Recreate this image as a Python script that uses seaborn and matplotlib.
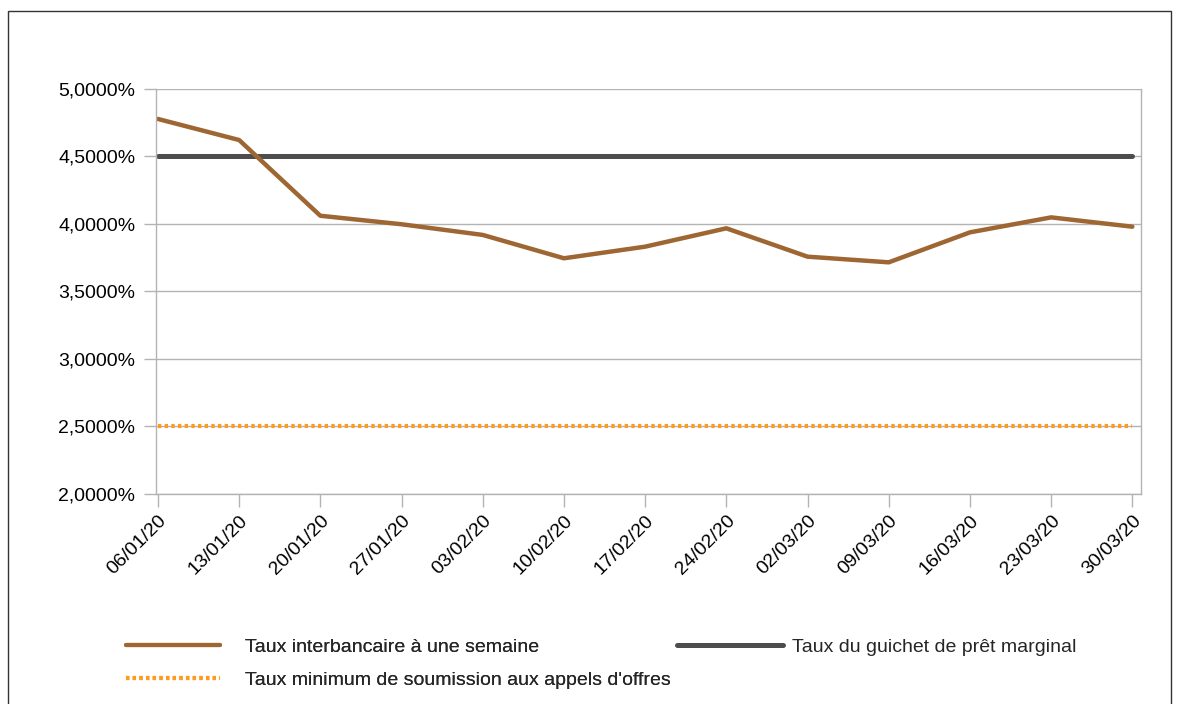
import pandas as pd
import seaborn as sns
import matplotlib.pyplot as plt
import matplotlib.dates as mdates
from matplotlib.ticker import FuncFormatter, MultipleLocator
from matplotlib.lines import Line2D
from matplotlib.patches import Rectangle

dates = ["06/01/20", "13/01/20", "20/01/20", "27/01/20", "03/02/20", "10/02/20",
         "17/02/20", "24/02/20", "02/03/20", "09/03/20", "16/03/20", "23/03/20",
         "30/03/20"]
taux_interbancaire = [4.778, 4.622, 4.061, 3.998, 3.919, 3.746, 3.832, 3.968,
                      3.758, 3.716, 3.938, 4.049, 3.980]
taux_pret_marginal = [4.50] * 13
taux_minimum = [2.50] * 13

labels = ["Taux interbancaire à une semaine",
          "Taux du guichet de prêt marginal",
          "Taux minimum de soumission aux appels d'offres"]


def main():
    sns.set_style("white")
    plt.rcParams['font.family'] = ['Liberation Sans', 'DejaVu Sans']

    df = pd.DataFrame({
        "date": pd.to_datetime(dates, format="%d/%m/%y"),
        "inter": taux_interbancaire,
        "marginal": taux_pret_marginal,
        "minimum": taux_minimum,
    })

    fig = plt.figure(figsize=(11.79, 7.04), dpi=100)
    ax = fig.add_axes([0.1323, 0.2983, 0.8355, 0.5753])

    brown, grey, orange = "#9e6632", "#4d4d4d", "#ff9a1f"
    sns.lineplot(data=df, x="date", y="minimum", ax=ax, color=orange,
                 linewidth=3.0, linestyle=(0, (0.8, 0.8)))
    sns.lineplot(data=df, x="date", y="marginal", ax=ax, color=grey,
                 linewidth=3.6)
    sns.lineplot(data=df, x="date", y="inter", ax=ax, color=brown,
                 linewidth=3.2)

    x0 = df["date"].iloc[0]
    ax.set_xlim(x0 - pd.Timedelta(hours=4), df["date"].iloc[-1] + pd.Timedelta(hours=18))
    ax.set_ylim(2.0, 5.0)
    ax.yaxis.set_major_locator(MultipleLocator(0.5))
    ax.yaxis.set_major_formatter(
        FuncFormatter(lambda v, p: f"{v:.4f}%".replace(".", ",")))
    ax.set_xticks(df["date"])
    ax.xaxis.set_major_formatter(mdates.DateFormatter("%d/%m/%y"))
    plt.setp(ax.get_xticklabels(), rotation=45, ha="right", rotation_mode="anchor")

    ax.set_xlabel("")
    ax.set_ylabel("")
    ax.grid(axis="y", color="#b3b3b3", linewidth=1)
    ax.set_axisbelow(True)
    for side in ["left", "bottom", "right"]:
        ax.spines[side].set_color("#b3b3b3")
        ax.spines[side].set_linewidth(1)
    ax.spines["top"].set_visible(False)
    ax.tick_params(axis="both", length=9, width=1, color="#b3b3b3",
                   labelsize=14, labelcolor="black", direction="out",
                   left=True, bottom=True)
    ax.tick_params(axis="y", pad=6)
    ax.tick_params(axis="x", pad=4)

    h_inter = Line2D([], [], color=brown, linewidth=3)
    h_marg = Line2D([], [], color=grey, linewidth=3.6)
    h_min = Line2D([], [], color=orange, linewidth=3, linestyle=(0, (0.8, 0.8)))
    leg1 = fig.legend([h_inter, h_min], [labels[0], labels[2]],
                      loc="upper left", bbox_to_anchor=(0.092, 0.118),
                      frameon=False, fontsize=14, handlelength=4.85,
                      handletextpad=1.25, labelspacing=0.8)
    fig.legend([h_marg], [labels[1]], loc="upper left",
               bbox_to_anchor=(0.5594, 0.118), frameon=False, fontsize=14,
               handlelength=5.45, handletextpad=0.45)
    fig.add_artist(leg1)

    fig.add_artist(Rectangle((8 / 1179, -0.05), 1163 / 1179, 1.05 - 11 / 704,
                             transform=fig.transFigure, fill=False,
                             edgecolor="#333333", linewidth=1))

    fig.savefig("out.png", dpi=100)


if __name__ == '__main__':
    main()
